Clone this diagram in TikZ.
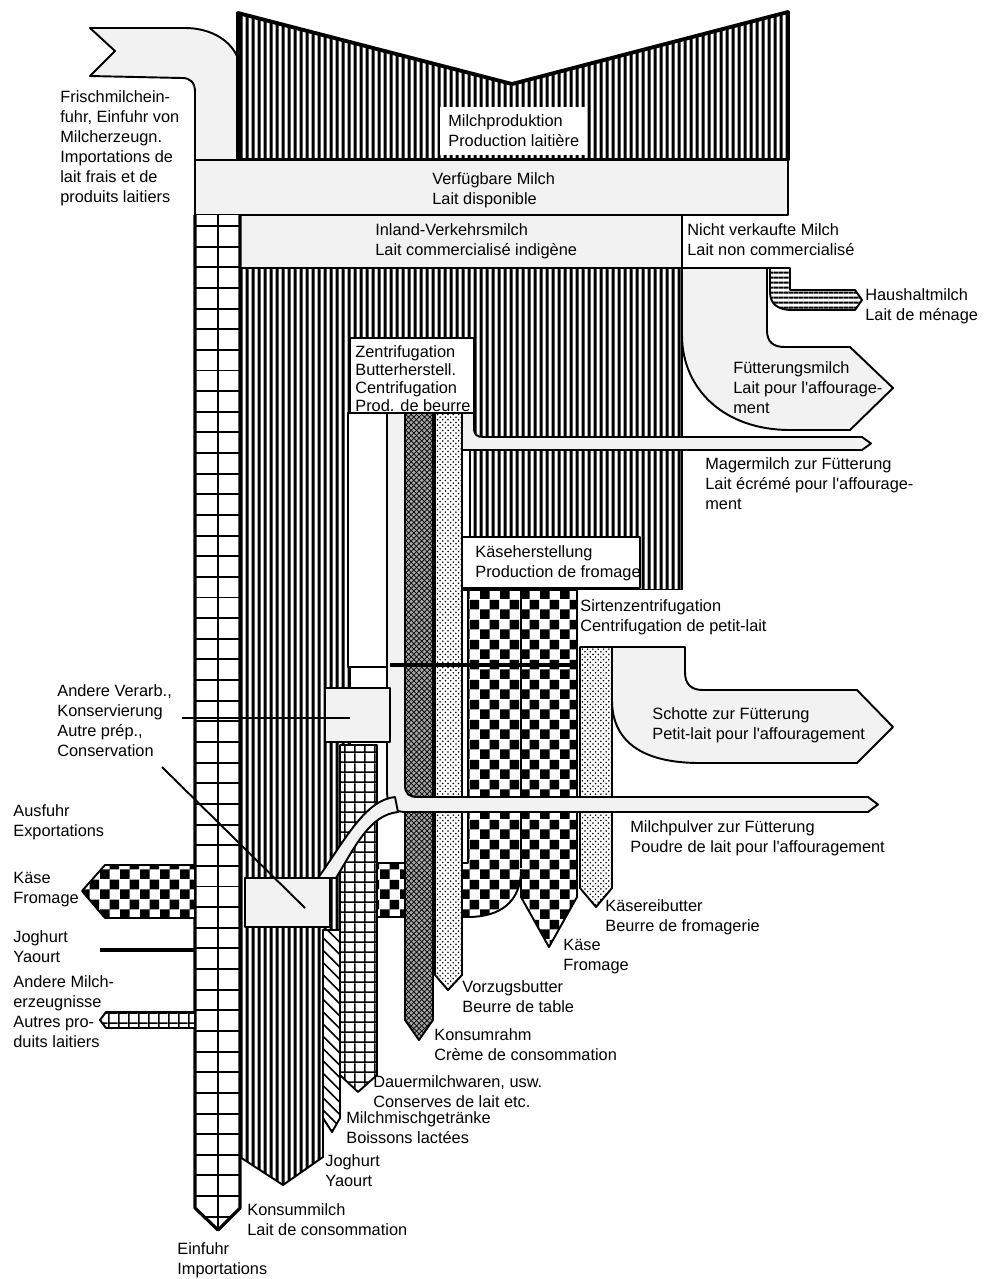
\documentclass[tikz,border=0pt]{standalone}
\usepackage{fontspec}
\setmainfont{Liberation Sans}
\usetikzlibrary{patterns}

\pgfdeclarepatternformonly{vstripes}{\pgfpointorigin}{\pgfqpoint{3.4pt}{3.4pt}}{\pgfqpoint{3.4pt}{3.4pt}}{%
  \pgfpathrectangle{\pgfqpoint{0.9pt}{0pt}}{\pgfqpoint{1.7pt}{3.4pt}}\pgfusepath{fill}}
\pgfdeclarepatternformonly{hstripes}{\pgfpointorigin}{\pgfqpoint{3pt}{3pt}}{\pgfqpoint{3pt}{3pt}}{%
  \pgfpathrectangle{\pgfqpoint{0pt}{0.9pt}}{\pgfqpoint{3pt}{1.3pt}}\pgfusepath{fill}}
\pgfdeclarepatternformonly{bigchecker}{\pgfpointorigin}{\pgfqpoint{11.4pt}{11.4pt}}{\pgfqpoint{11.4pt}{11.4pt}}{%
  \pgfpathrectangle{\pgfpointorigin}{\pgfqpoint{5.7pt}{5.7pt}}%
  \pgfpathrectangle{\pgfqpoint{5.7pt}{5.7pt}}{\pgfqpoint{5.7pt}{5.7pt}}\pgfusepath{fill}}
\pgfdeclarepatternformonly{smallgrid}{\pgfpointorigin}{\pgfqpoint{5.6pt}{5.6pt}}{\pgfqpoint{5.6pt}{5.6pt}}{%
  \pgfpathrectangle{\pgfpointorigin}{\pgfqpoint{5.6pt}{0.9pt}}%
  \pgfpathrectangle{\pgfpointorigin}{\pgfqpoint{0.9pt}{5.6pt}}\pgfusepath{fill}}
\pgfdeclarepatternformonly{wideNW}{\pgfqpoint{-1pt}{-1pt}}{\pgfqpoint{8pt}{8pt}}{\pgfqpoint{7pt}{7pt}}{%
  \pgfsetlinewidth{0.9pt}\pgfpathmoveto{\pgfqpoint{0pt}{7pt}}\pgfpathlineto{\pgfqpoint{7.1pt}{-0.1pt}}\pgfusepath{stroke}}

\newcommand\lblfont{\fontsize{9.3}{11.4}\selectfont}
\newcommand\q{\textquotesingle}

\tikzset{
  flow/.style={draw=black, line width=1.1pt, line join=round},
  milk/.style={flow, preaction={fill=white}, pattern=vstripes},
  stipple/.style={flow, fill=black!5},
  blank/.style={flow, fill=white},
  cheese/.style={flow, preaction={fill=white}, pattern=bigchecker},
  cream/.style={flow, preaction={fill=black!35}, pattern=crosshatch},
  butter/.style={flow, preaction={fill=white}, pattern=crosshatch dots},
  conserve/.style={flow, preaction={fill=white}, pattern=smallgrid},
  drink/.style={flow, preaction={fill=white}, pattern=wideNW},
  house/.style={flow, preaction={fill=white}, pattern=hstripes},
  lbl/.style={anchor=west, align=left, inner sep=0pt, font=\lblfont},
  leader/.style={draw=black, line width=1.1pt},
}

\begin{document}
\begin{tikzpicture}[x=0.02cm,y=-0.02cm]
\useasboundingbox (0,0) rectangle (990,1279);

% cheese, with the export branch running left
\path[cheese] (468,588) -- (577,588) -- (577,897) -- (549,947) -- (521,897) -- (521,870)
  .. controls (521,902) and (500,917) .. (468,917) -- (200,917) -- (200,863) -- (468,863) -- cycle;
\draw[line width=0.6pt] (521,590) -- (521,868);

% commercial milk
\path[milk] (240,268) -- (682,268) -- (682,590) -- (350,590) -- (350,750) -- (340,750)
  -- (340,930) -- (323,930) -- (323,1157) -- (283,1185) -- (240,1157) -- cycle;

% top bands
\path[stipple] (90,28) -- (185,28) .. controls (218,28) and (240,48) .. (240,70) -- (240,160)
  -- (195,160) -- (195,92) .. controls (195,82) and (190,78) .. (182,78) -- (90,76) -- (115,51) -- cycle;
\path[milk, line width=2.2pt] (238,13) -- (512,84) -- (788,12) -- (788,160) -- (238,160) -- cycle;
\path[fill=white] (440,107) rectangle (587,155);
\path[stipple] (195,160) rectangle (788,215);
\path[stipple] (240,215) rectangle (682,268);
\path[fill=white] (683,216) rectangle (787,267);
\draw[flow] (682,215) -- (682,268) -- (770,268);

% unsold milk
\path[house] (770,268) -- (790,268) -- (790,290) -- (855,290) -- (862,300) -- (855,310) -- (792,310)
  .. controls (778,310) and (770,304) .. (770,292) -- cycle;
\path[stipple] (682,268) -- (767,268) -- (767,330) .. controls (767,342) and (773,347) .. (785,347)
  -- (850,347) -- (893,388) -- (850,430) -- (790,430) .. controls (725,430) and (682,390) .. (682,335) -- cycle;

% centrifugation
\path[flow, fill=white, line width=0.6pt] (350,338) rectangle (474,413);
\path[blank] (348,413) rectangle (387,667);
\path[cream] (405,413) -- (433,413) -- (433,1020) -- (419,1040) -- (405,1020) -- cycle;
\path[butter] (435,413) -- (462,413) -- (462,975) -- (448,990) -- (435,975) -- cycle;
\path[blank] (462,450) rectangle (470,537);
\path[stipple] (462,413) -- (474,413) -- (474,428) .. controls (474,435) and (477,437) .. (484,437)
  -- (862,437) -- (871,443.5) -- (862,450) -- (462,450) -- cycle;

% cheese making
\path[flow, fill=white, line width=0.6pt] (462,537) rectangle (640,588);
\path[fill=white] (578,590) rectangle (684,647);
\path[butter] (580,647) -- (612,647) -- (612,888) -- (596,907) -- (580,888) -- cycle;
\path[stipple] (612,647) -- (685,647) -- (685,672) .. controls (685,684) and (691,690) .. (703,690)
  -- (857,690) -- (893,727) -- (857,763) -- (700,763) .. controls (640,763) and (612,740) .. (612,700) -- cycle;

% skim milk to powder
\path[stipple] (387,413) -- (405,413) -- (405,785) .. controls (405,794) and (409,797) .. (418,797)
  -- (868,797) -- (878,804.5) -- (868,812) -- (405,812) .. controls (394,812) and (387,805) .. (387,792) -- cycle;

% other processing
\path[conserve] (340,745) -- (377,745) -- (377,1075) -- (358,1092) -- (340,1075) -- cycle;
\path[stipple] (395,797) .. controls (365,800) and (345,840) .. (318,878) -- (336,878)
  .. controls (356,845) and (370,815) .. (398,812) -- cycle;
\path[stipple] (325,688) rectangle (390,742);
\path[stipple] (245,878) rectangle (330,927);
\path[drink] (323,930) -- (340,930) -- (340,1118) -- (332,1132) -- (323,1118) -- cycle;
\draw[line width=2pt] (390,665) -- (577,665);

% imports column
\path[fill=white] (195,215) -- (240,215) -- (240,1208) -- (218,1230) -- (195,1208) -- cycle;
\begin{scope}
\clip (195,215) -- (240,215) -- (240,1208) -- (218,1230) -- (195,1208) -- cycle;
\foreach \i in {0,...,48}
  \draw[line width=1.1pt] (195,226+20.64*\i) -- (240,226+20.64*\i);
\draw[line width=1.1pt] (218,215) -- (218,1230);
\end{scope}
\draw[flow, line width=1.8pt] (195,215) -- (195,1208) -- (218,1230) -- (240,1208) -- (240,215);

% exports
\path[cheese] (195,865) -- (105,865) -- (82,891) -- (105,918) -- (195,918) -- cycle;
\draw[line width=2pt] (100,950) -- (195,950);
\path[conserve] (195,1012) -- (106,1012) -- (100,1020) -- (106,1028) -- (195,1028) -- cycle;

% labels
\node[lbl] (importin) at (60,148) {Frischmilchein-\\fuhr, Einfuhr von\\Milcherzeugn.\\Importations de\\lait frais et de\\produits laitiers};
\node[lbl] (prod) at (448,131) {Milchproduktion\\Production laitière};
\node[lbl] (avail) at (432,190) {Verfügbare Milch\\Lait disponible};
\node[lbl] (inland) at (375,241) {Inland-Verkehrsmilch\\Lait commercialisé indigène};
\node[lbl] (unsold) at (687,240) {Nicht verkaufte Milch\\Lait non commercialisé};
\node[lbl] (house) at (865,306) {Haushaltmilch\\Lait de ménage};
\node[lbl] (feed) at (733,388) {Fütterungsmilch\\Lait pour l\q affourage-\\ment};
\node[lbl, font=\fontsize{9.3}{10.3}\selectfont] (centr) at (355,379) {Zentrifugation\\Butterherstell.\\Centrifugation\\Prod. de beurre};
\node[lbl] (skim) at (705,484) {Magermilch zur Fütterung\\Lait écrémé pour l\q affourage-\\ment};
\node[lbl] (cheesemake) at (475,563) {Käseherstellung\\Production de fromage};
\node[lbl] (whey) at (580,617) {Sirtenzentrifugation\\Centrifugation de petit-lait};
\node[lbl] (wheyfeed) at (652,725) {Schotte zur Fütterung\\Petit-lait pour l\q affouragement};
\node[lbl] (powder) at (630,838) {Milchpulver zur Fütterung\\Poudre de lait pour l\q affouragement};
\node[lbl] (other) at (57,721) {Andere Verarb.,\\Konservierung\\Autre prép.,\\Conservation};
\node[lbl] (export) at (13,822) {Ausfuhr\\Exportations};
\node[lbl] (excheese) at (13,890) {Käse\\Fromage};
\node[lbl] (exyog) at (13,947) {Joghurt\\Yaourt};
\node[lbl] (exother) at (13,1012) {Andere Milch-\\erzeugnisse\\Autres pro-\\duits laitiers};
\node[lbl] (wheybutter) at (605,917) {Käsereibutter\\Beurre de fromagerie};
\node[lbl] (cheeseout) at (563,957) {Käse\\Fromage};
\node[lbl] (tablebutter) at (462,997) {Vorzugsbutter\\Beurre de table};
\node[lbl] (cream) at (434,1045) {Konsumrahm\\Crème de consommation};
\node[lbl] (conserve) at (373,1092) {Dauermilchwaren, usw.\\Conserves de lait etc.};
\node[lbl] (drinks) at (346,1128) {Milchmischgetränke\\Boissons lactées};
\node[lbl] (yog) at (325,1171) {Joghurt\\Yaourt};
\node[lbl] (fluid) at (247,1220) {Konsummilch\\Lait de consommation};
\node[lbl] (importout) at (177,1260) {Einfuhr\\Importations};

% leaders
\coordinate (uppertip) at (182,718);
\coordinate (upperbox) at (350,718);
\coordinate (lowertip) at (162,767);
\coordinate (lowerbox) at (305,908);
\draw[leader] (uppertip) -- (upperbox);
\draw[leader] (lowertip) -- (lowerbox);
\end{tikzpicture}
\end{document}
